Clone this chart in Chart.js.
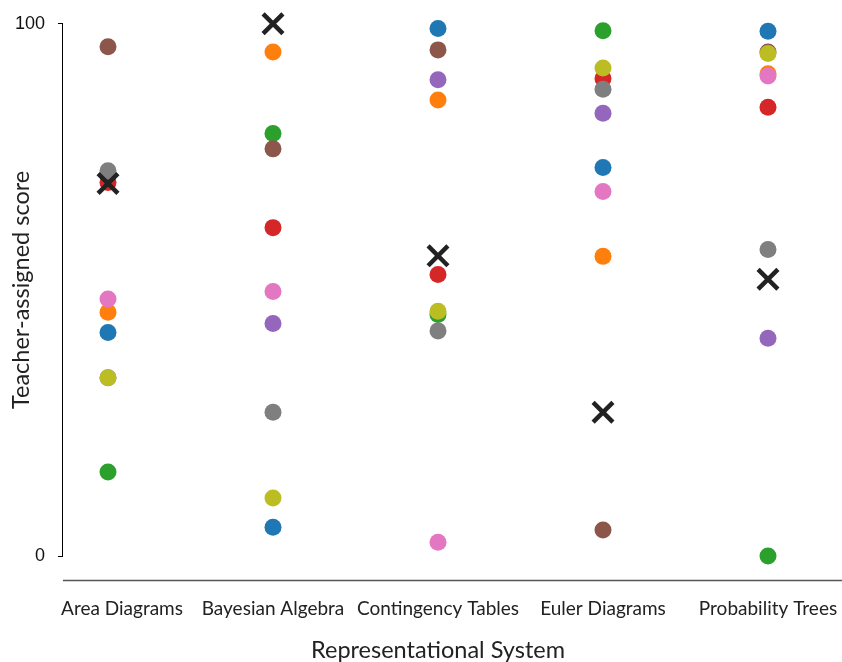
<!DOCTYPE html>
<html>
<head>
<meta charset="utf-8">
<script src="https://cdn.jsdelivr.net/npm/chart.js@4"></script>
<style>
  html, body { margin: 0; padding: 0; background: #fff; }
  #c { display: block; }
</style>
</head>
<body>
<canvas id="c" width="842" height="662"></canvas>
<script>
// ---- data ----
const categories = ["Area Diagrams", "Bayesian Algebra", "Contingency Tables", "Euler Diagrams", "Probability Trees"];
const yTickValues = [0, 100];

const series1 = [42.0, 5.4, 99.1, 73.0, 98.6];   // blue
const series2 = [45.8, 94.7, 85.7, 56.3, 90.6];  // orange
const series3 = [15.8, 79.4, 45.4, 98.7, 0.0];   // green
const series4 = [70.2, 61.7, 52.9, 89.7, 84.3];  // red
const series5 = [33.5, 43.7, 89.5, 83.2, 40.9];  // purple
const series6 = [95.7, 76.5, 95.1, 4.9, 94.7];   // brown
const series7 = [48.3, 49.7, 2.6, 68.5, 90.2];   // pink
const series8 = [72.4, 27.0, 42.3, 87.7, 57.6];  // gray
const series9 = [33.5, 10.9, 46.0, 91.7, 94.4];  // olive
const consensus = [70.0, 100.0, 56.4, 27.0, 52.0]; // black X markers

const seriesList = [series1, series2, series3, series4, series5, series6, series7, series8, series9];
const colors = ["#1f77b4", "#ff7f0e", "#2ca02c", "#d62728", "#9467bd", "#8c564b", "#e377c2", "#7f7f7f", "#bcbd22"];

const toPoints = arr => arr.map((v, i) => ({ x: i, y: v }));

const datasets = seriesList.map((s, k) => ({
  label: "Rater " + (k + 1),
  data: toPoints(s),
  pointRadius: 8.5,
  pointHoverRadius: 8.5,
  pointBackgroundColor: colors[k],
  pointBorderWidth: 0,
  borderWidth: 0,
  showLine: false,
  order: seriesList.length - k,
  clip: false
}));
datasets.push({
  label: "Score",
  data: toPoints(consensus),
  pointStyle: "crossRot",
  pointRadius: 14,
  pointHoverRadius: 14,
  pointBorderColor: "#222",
  pointBorderWidth: 4.5,
  pointBackgroundColor: "#222",
  showLine: false,
  order: 0,
  clip: false
});

const xAxisLine = {
  id: "xAxisLine",
  beforeDraw(chart) {
    // nudge the first category label so it starts at the axis edge
    const xs = chart.scales.x;
    if (xs && typeof xs.getLabelItems === "function") {
      const items = xs.getLabelItems(chart.chartArea);
      if (items && items[0] && items[0].options && Array.isArray(items[0].options.translation) && !items[0]._nudged) {
        items[0].options.translation[0] += 14;
        items[0]._nudged = true;
      }
    }
  },
  afterDraw(chart) {
    const ctx = chart.ctx;
    const ys = chart.scales.y;
    const y = ys.bottom + 24.5;
    ctx.save();
    ctx.strokeStyle = "#555";
    ctx.lineWidth = 1.5;
    ctx.beginPath();
    ctx.moveTo(chart.chartArea.left + 1, y);
    ctx.lineTo(chart.width, y);
    ctx.stroke();
    ctx.restore();
  }
};

new Chart(document.getElementById("c"), {
  type: "scatter",
  data: { datasets },
  plugins: [xAxisLine],
  options: {
    responsive: false,
    devicePixelRatio: 1,
    animation: false,
    events: [],
    layout: { padding: { top: 23, right: 28, left: 0, bottom: 0 } },
    plugins: { legend: { display: false }, tooltip: { enabled: false } },
    scales: {
      x: {
        type: "linear",
        min: -0.2788,
        max: 4.2788,
        afterBuildTicks: s => { s.ticks = categories.map((_, i) => ({ value: i })); },
        afterFit: s => { s.height = 106; s.paddingLeft = 0; s.paddingRight = 0; },
        grid: { display: false, drawTicks: false },
        border: { display: false },
        ticks: {
          autoSkip: false,
          maxRotation: 0,
          padding: 41,
          color: "#222",
          font: { family: "Lato", size: 19 },
          callback: v => categories[v]
        },
        title: {
          display: true,
          text: "Representational System",
          color: "#222",
          font: { family: "Lato", size: 23.5, lineHeight: 1 },
          padding: { top: 0, bottom: 0 }
        }
      },
      y: {
        min: 0,
        max: 100,
        afterBuildTicks: s => { s.ticks = yTickValues.map(v => ({ value: v })); },
        afterFit: s => { s.width = 62; },
        grid: { drawOnChartArea: false, drawTicks: true, tickLength: 4, color: "#000", lineWidth: 1 },
        border: { display: true, color: "#000", width: 1 },
        ticks: {
          padding: 13,
          color: "#111",
          font: { family: "Liberation Sans", size: 18 },
          callback: v => String(v)
        },
        title: {
          display: true,
          text: "Teacher-assigned score",
          color: "#222",
          font: { family: "Lato", size: 23.5, lineHeight: 1 },
          padding: { top: 10, bottom: 0 }
        }
      }
    }
  }
});
</script>
</body>
</html>
